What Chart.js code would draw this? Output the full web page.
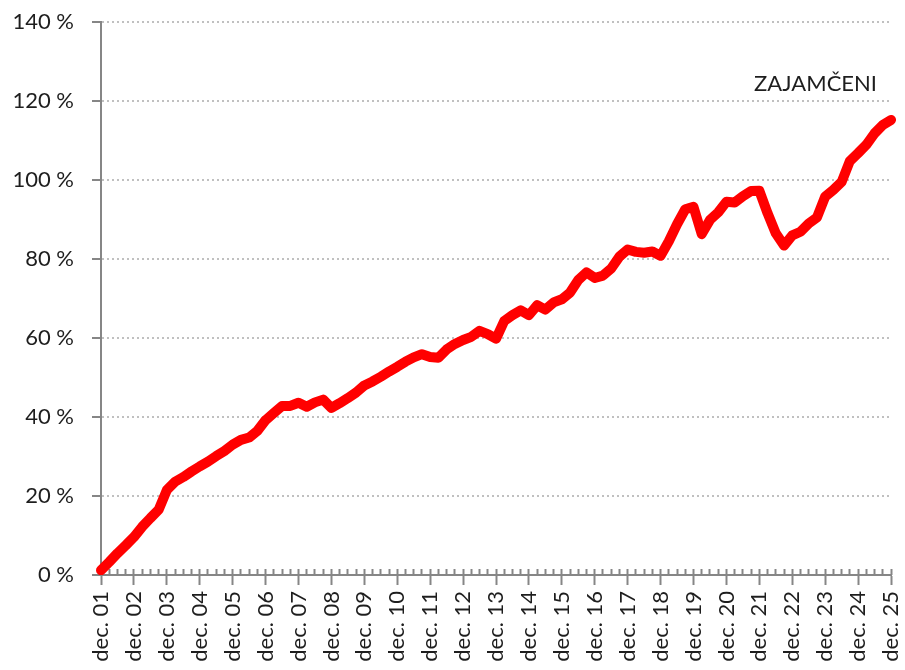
<!DOCTYPE html>
<html>
<head>
<meta charset="utf-8">
<script src="https://cdn.jsdelivr.net/npm/chart.js@4.4.1/dist/chart.umd.min.js"></script>
<style>
    html, body { margin: 0; padding: 0; background: #fff; overflow: hidden; }
    #wrap { width: 905px; height: 670px; }
</style>
</head>
<body>
<div id="wrap"><canvas id="chart" width="905" height="670"></canvas></div>
<script>
// ini data grafik (kvartalno, dec. 01 - dec. 25)
const seriesName = 'ZAJAMČENI';
const years = ['01', '02', '03', '04', '05', '06', '07', '08', '09', '10', '11', '12', '13',
    '14', '15', '16', '17', '18', '19', '20', '21', '22', '23', '24', '25'];
const quarterMonths = ['mar.', 'jun.', 'sep.', 'dec.'];
const yTicks = [0, 20, 40, 60, 80, 100, 120, 140];

// vrijednosti u %, po godinama (mar, jun, sep, dec)
const zajamceni = [
    1.2,
    3.3, 5.5, 7.5, 9.6,         // 02
    12.2, 14.4, 16.5, 21.5,     // 03
    23.6, 24.8, 26.2, 27.5,     // 04
    28.7, 30.1, 31.4, 33.0,     // 05
    34.2, 34.8, 36.5, 39.2,     // 06
    41.0, 42.8, 42.8, 43.6,     // 07
    42.6, 43.7, 44.4, 42.3,     // 08
    43.5, 44.8, 46.2, 48.0,     // 09
    49.0, 50.2, 51.5, 52.7,     // 10
    54.0, 55.1, 55.9, 55.2,     // 11
    55.0, 57.1, 58.5, 59.5,     // 12
    60.3, 61.8, 61.0, 59.8,     // 13
    64.3, 65.8, 67.0, 65.8,     // 14
    68.3, 67.2, 69.0, 69.8,     // 15
    71.5, 74.7, 76.6, 75.2,     // 16
    75.8, 77.6, 80.6, 82.4,     // 17
    81.8, 81.6, 81.9, 80.8,     // 18
    84.5, 88.8, 92.6, 93.2,     // 19
    86.3, 89.9, 91.8, 94.5,     // 20
    94.3, 95.9, 97.2, 97.3,     // 21
    91.6, 86.5, 83.4, 86.0,     // 22
    86.9, 89.0, 90.5, 95.8,     // 23
    97.5, 99.5, 104.8, 106.8,   // 24
    108.9, 111.8, 113.9, 115.2  // 25
];

const labels = ['dec. ' + years[0]];
years.slice(1).forEach(y => quarterMonths.forEach(m => labels.push(m + ' ' + y)));

const textColor = '#1e1e1e';
const axisColor = '#868686';
const font = { family: 'Lato', size: 22 };

const seriesLabel = {
    id: 'seriesLabel',
    afterDraw(chart) {
        const { ctx, chartArea, scales } = chart;
        ctx.save();
        ctx.font = '22px Lato';
        ctx.fillStyle = textColor;
        ctx.textAlign = 'right';
        ctx.textBaseline = 'middle';
        ctx.fillText(seriesName, chartArea.right - 14, scales.y.getPixelForValue(124.3));
        ctx.restore();
    }
};

new Chart(document.getElementById('chart'), {
    type: 'line',
    data: {
        labels: labels,
        datasets: [{
            label: seriesName,
            data: zajamceni,
            borderColor: '#ff0000',
            borderWidth: 10,
            borderJoinStyle: 'round',
            borderCapStyle: 'round',
            pointRadius: 0,
            tension: 0,
            fill: false
        }]
    },
    options: {
        responsive: false,
        animation: false,
        devicePixelRatio: 1,
        layout: { padding: { top: 22, right: 14, left: 0, bottom: 0 } },
        plugins: {
            legend: { display: false },
            tooltip: { enabled: false }
        },
        scales: {
            x: {
                type: 'category',
                offset: false,
                grid: {
                    drawOnChartArea: false,
                    tickLength: 10,
                    tickWidth: 2,
                    tickColor: c => (c.index % 4 === 0 ? axisColor : 'rgba(0,0,0,0)')
                },
                border: { display: true, color: axisColor, width: 2 },
                ticks: {
                    autoSkip: false,
                    minRotation: 90,
                    maxRotation: 90,
                    padding: 6,
                    color: textColor,
                    font: font,
                    callback: function (v, i) { return i % 4 === 0 ? this.getLabelForValue(v) : ''; }
                },
                afterFit: s => {
                    s.height = 95;
                    s.paddingLeft = 0;
                    s.paddingRight = 0;
                }
            },
            xMinor: {
                type: 'category',
                axis: 'x',
                position: { y: 0 },
                offset: false,
                grid: { drawOnChartArea: false, tickLength: -6, tickWidth: 2, tickColor: axisColor },
                border: { display: false },
                ticks: { display: false, autoSkip: false },
                afterFit: s => {
                    s.paddingLeft = 0;
                    s.paddingRight = 0;
                    s.paddingTop = 0;
                    s.paddingBottom = 0;
                }
            },
            y: {
                min: yTicks[0],
                max: yTicks[yTicks.length - 1],
                ticks: {
                    stepSize: yTicks[1] - yTicks[0],
                    padding: 18,
                    color: textColor,
                    font: font,
                    callback: v => v + ' %'
                },
                grid: {
                    color: '#c0c0c0',
                    lineWidth: 2,
                    tickLength: 9,
                    tickWidth: 2,
                    tickColor: axisColor,
                    tickBorderDash: []
                },
                border: { display: true, color: axisColor, width: 2, dash: [2, 3] },
                afterFit: s => {
                    s.width = 101;
                    s.paddingTop = 0;
                    s.paddingBottom = 0;
                }
            }
        }
    },
    plugins: [seriesLabel]
});
</script>
</body>
</html>
